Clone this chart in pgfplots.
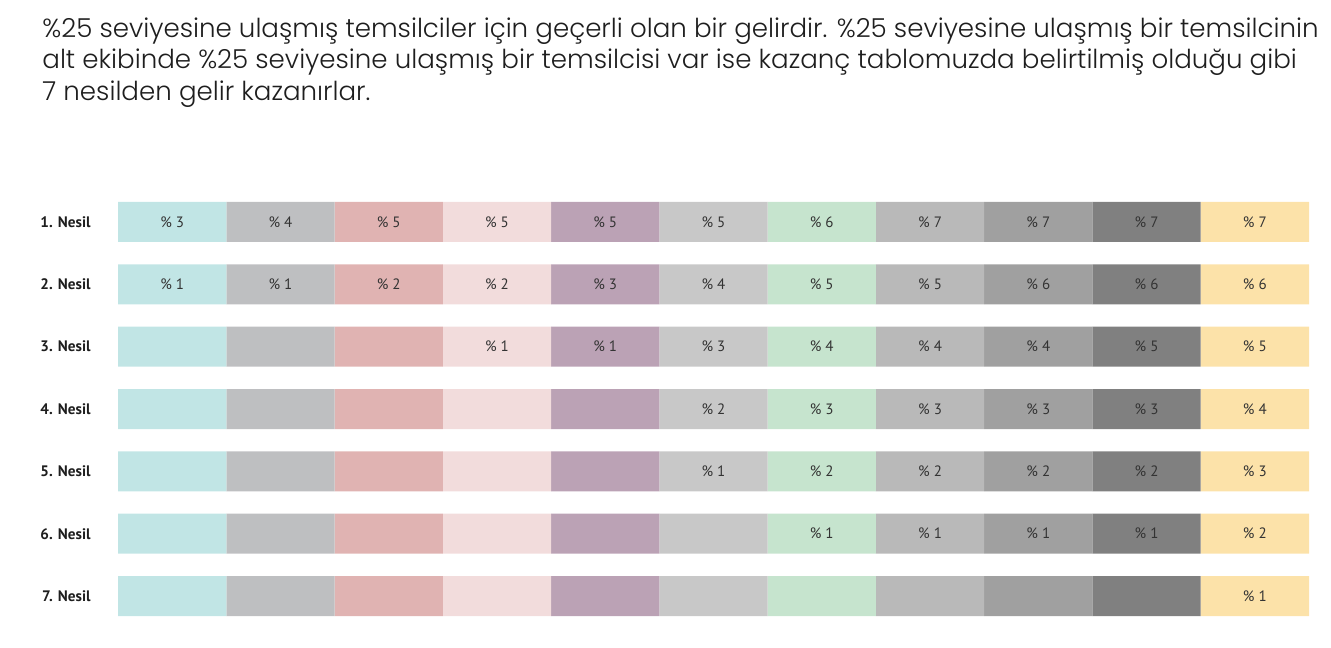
\documentclass[border=0pt]{standalone}
\usepackage{pgfplots}
\usepackage{pgfplotstable}
\pgfplotsset{compat=1.18}
\usepackage{fontspec}
\setmainfont{PT Sans}
\newfontfamily\titlefont{Poppins Light}
\definecolor{c1}{HTML}{C1E5E5}
\definecolor{c2}{HTML}{BEBFC1}
\definecolor{c3}{HTML}{E0B3B2}
\definecolor{c4}{HTML}{F2DCDC}
\definecolor{c5}{HTML}{BBA2B5}
\definecolor{c6}{HTML}{C8C8C8}
\definecolor{c7}{HTML}{C6E4CE}
\definecolor{c8}{HTML}{B9B9B9}
\definecolor{c9}{HTML}{A0A0A0}
\definecolor{c10}{HTML}{808080}
\definecolor{c11}{HTML}{FCE2A9}
\definecolor{txt}{HTML}{1E1E1E}
\pgfplotstableread{
y w m1 m2 m3 m4 m5 m6 m7 m8 m9 m10 m11
1 1 3 4 5 5 5 5 6 7 7 7 7
2 1 1 1 2 2 3 4 5 5 6 6 6
3 1 - - - 1 1 3 4 4 4 5 5
4 1 - - - - - 2 3 3 3 3 4
5 1 - - - - - 1 2 2 2 2 3
6 1 - - - - - - 1 1 1 1 2
7 1 - - - - - - - - - - 1
}\gentable
\def\dashmark{-}
\begin{document}
\begin{tikzpicture}
\useasboundingbox (0,0) rectangle (665.5pt,-323.5pt);
\node[anchor=north west, align=left, inner sep=0pt, text=txt,
  font=\titlefont\fontsize{13.05}{15.9}\selectfont] at (21pt,-8.5pt)
  {\%25 seviyesine ulaşmış temsilciler için geçerli olan bir gelirdir. \%25 seviyesine ulaşmış bir temsilcinin\\
   alt ekibinde \%25 seviyesine ulaşmış bir temsilcisi var ise kazanç tablomuzda belirtilmiş olduğu gibi\\
   7 nesilden gelir kazanırlar.};
\begin{axis}[
  at={(59pt,-95.4pt)}, anchor=north west,
  scale only axis, width=595.5pt, height=218.2pt,
  xbar stacked, bar width=20pt,
  xmin=0, xmax=11, ymin=0.5, ymax=7.5, y dir=reverse,
  axis line style={draw=none},
  xtick=\empty, ytick={1,...,7}, major tick length=0pt,
  yticklabels={1. Nesil,2. Nesil,3. Nesil,4. Nesil,5. Nesil,6. Nesil,7. Nesil},
  yticklabel style={font=\bfseries\fontsize{7.6}{9}\selectfont, text=txt, anchor=east, inner sep=0pt, xshift=-13.5pt},
  point meta=explicit symbolic,
  nodes near coords={\edef\tmp{\pgfplotspointmeta}\ifx\tmp\dashmark\else\% \tmp\fi},
  nodes near coords align=center,
  nodes near coords style={font=\fontsize{7.5}{8.5}\selectfont, text=black!80, anchor=center, inner sep=0pt},
  every axis plot/.append style={draw=none},
]
\pgfplotsinvokeforeach{1,...,11}{
  \addplot[fill=c#1, draw=none] table[x=w, y=y, meta=m#1]{\gentable};
}
\end{axis}
\end{tikzpicture}
\end{document}
